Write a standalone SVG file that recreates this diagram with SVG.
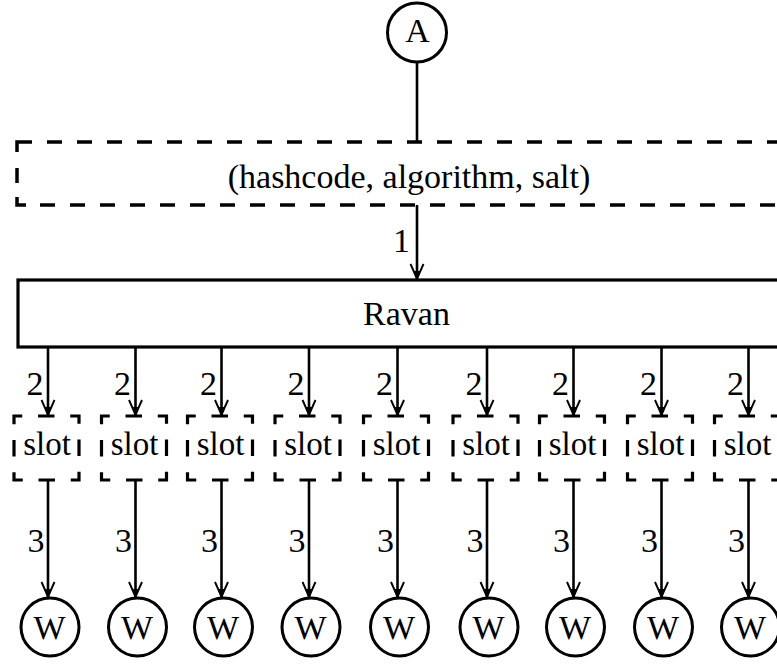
<svg xmlns="http://www.w3.org/2000/svg" width="777" height="664" viewBox="0 0 777 664">
  <style>
    text { font-family: "Liberation Serif", "Times New Roman", serif; font-size: 34px; fill: #000; }
    .mid { text-anchor: middle; }
    .lbl { text-anchor: end; }
    .st { font-size: 33px; text-anchor: middle; }
    .node { fill: #fff; stroke: #000; stroke-width: 3; }
    .box { fill: #fff; stroke: #000; stroke-width: 3.2; }
    .dash { fill: none; stroke: #000; stroke-width: 3.5; }
    .dline { fill: none; stroke: #000; stroke-width: 3.5; stroke-dasharray: 15 15; }
    .slot { fill: #fff; stroke: #000; stroke-width: 3.2; stroke-dasharray: 16.5 15.75; stroke-dashoffset: 8.25; }
    .edge { fill: none; stroke: #000; stroke-width: 2.6; }
    .arrow { marker-end: url(#ah); }
  </style>
  <defs>
    <marker id="ah" markerUnits="userSpaceOnUse" viewBox="-16 -8 18 16" markerWidth="18" markerHeight="16" refX="0" refY="0" orient="auto" overflow="visible">
      <path d="M-15,-6.5 Q-5,-2 0,0 Q-5,2 -15,6.5" fill="none" stroke="#000" stroke-width="1.9"/>
      <path d="M0.5,0 L-8,-2.7 L-8,2.7 Z" fill="#000"/>
    </marker>
  </defs>

  <!-- source node -->
  <g id="node-A">
    <circle class="node" cx="417" cy="32.5" r="29.5"/>
    <text class="mid" x="417.5" y="42">A</text>
  </g>

  <!-- request tuple (dashed, runs off the right edge) -->
  <g id="node-tuple">
    <path class="dash" d="M17,152 V142 H32"/>
    <path class="dline" d="M47,142 H790"/>
    <path class="dash" d="M17,168 V183"/>
    <path class="dash" d="M17,197 V205 H26"/>
    <path class="dline" d="M40,205 H790"/>
    <text class="mid" x="409" y="188">(hashcode, algorithm, salt)</text>
  </g>

  <!-- dispatcher -->
  <g id="node-ravan">
    <rect class="box" x="18" y="280" width="780" height="67"/>
    <text class="mid" x="406.5" y="325">Ravan</text>
  </g>

  <!-- slots -->
  <g id="slot-1"><rect class="slot" x="14" y="416" width="65" height="64"/><text class="st" x="47" y="455">slot</text></g>
  <g id="slot-2"><rect class="slot" x="101.5" y="416" width="65" height="64"/><text class="st" x="134.5" y="455">slot</text></g>
  <g id="slot-3"><rect class="slot" x="187.5" y="416" width="65" height="64"/><text class="st" x="220.5" y="455">slot</text></g>
  <g id="slot-4"><rect class="slot" x="275" y="416" width="65" height="64"/><text class="st" x="308" y="455">slot</text></g>
  <g id="slot-5"><rect class="slot" x="363.5" y="416" width="65" height="64"/><text class="st" x="396.5" y="455">slot</text></g>
  <g id="slot-6"><rect class="slot" x="453" y="416" width="65" height="64"/><text class="st" x="486" y="455">slot</text></g>
  <g id="slot-7"><rect class="slot" x="539.5" y="416" width="65" height="64"/><text class="st" x="572.5" y="455">slot</text></g>
  <g id="slot-8"><rect class="slot" x="627.5" y="416" width="65" height="64"/><text class="st" x="660.5" y="455">slot</text></g>
  <g id="slot-9"><rect class="slot" x="714.5" y="416" width="65" height="64"/><text class="st" x="747.5" y="455">slot</text></g>

  <!-- workers -->
  <g id="worker-1"><circle class="node" cx="50" cy="627" r="29"/><text class="mid" x="49.5" y="639">W</text></g>
  <g id="worker-2"><circle class="node" cx="137.5" cy="627" r="29"/><text class="mid" x="137" y="639">W</text></g>
  <g id="worker-3"><circle class="node" cx="223.5" cy="627" r="29"/><text class="mid" x="223" y="639">W</text></g>
  <g id="worker-4"><circle class="node" cx="311" cy="627" r="29"/><text class="mid" x="310.5" y="639">W</text></g>
  <g id="worker-5"><circle class="node" cx="399.5" cy="627" r="29"/><text class="mid" x="399" y="639">W</text></g>
  <g id="worker-6"><circle class="node" cx="489" cy="627" r="29"/><text class="mid" x="488.5" y="639">W</text></g>
  <g id="worker-7"><circle class="node" cx="575.5" cy="627" r="29"/><text class="mid" x="575" y="639">W</text></g>
  <g id="worker-8"><circle class="node" cx="663.5" cy="627" r="29"/><text class="mid" x="663" y="639">W</text></g>
  <g id="worker-9"><circle class="node" cx="750.5" cy="627" r="29"/><text class="mid" x="750" y="639">W</text></g>

  <!-- connectors -->
  <g id="connectors">
    <path class="edge" d="M417,62 V142"/>
    <path class="edge arrow" d="M417,205 V279"/>
    <text class="lbl" x="410" y="252">1</text>

    <path class="edge arrow" d="M48,347 V415"/><text class="lbl" x="43.5" y="395">2</text>
    <path class="edge arrow" d="M135.5,347 V415"/><text class="lbl" x="131" y="395">2</text>
    <path class="edge arrow" d="M221.5,347 V415"/><text class="lbl" x="217" y="395">2</text>
    <path class="edge arrow" d="M309,347 V415"/><text class="lbl" x="304.5" y="395">2</text>
    <path class="edge arrow" d="M397.5,347 V415"/><text class="lbl" x="393" y="395">2</text>
    <path class="edge arrow" d="M487,347 V415"/><text class="lbl" x="482.5" y="395">2</text>
    <path class="edge arrow" d="M573.5,347 V415"/><text class="lbl" x="569" y="395">2</text>
    <path class="edge arrow" d="M661.5,347 V415"/><text class="lbl" x="657" y="395">2</text>
    <path class="edge arrow" d="M748.5,347 V415"/><text class="lbl" x="744" y="395">2</text>

    <path class="edge arrow" d="M48,480 V597"/><text class="lbl" x="44.5" y="552">3</text>
    <path class="edge arrow" d="M135.5,480 V597"/><text class="lbl" x="132" y="552">3</text>
    <path class="edge arrow" d="M221.5,480 V597"/><text class="lbl" x="218" y="552">3</text>
    <path class="edge arrow" d="M309,480 V597"/><text class="lbl" x="305.5" y="552">3</text>
    <path class="edge arrow" d="M397.5,480 V597"/><text class="lbl" x="394" y="552">3</text>
    <path class="edge arrow" d="M487,480 V597"/><text class="lbl" x="483.5" y="552">3</text>
    <path class="edge arrow" d="M573.5,480 V597"/><text class="lbl" x="570" y="552">3</text>
    <path class="edge arrow" d="M661.5,480 V597"/><text class="lbl" x="658" y="552">3</text>
    <path class="edge arrow" d="M748.5,480 V597"/><text class="lbl" x="745" y="552">3</text>
  </g>
</svg>
